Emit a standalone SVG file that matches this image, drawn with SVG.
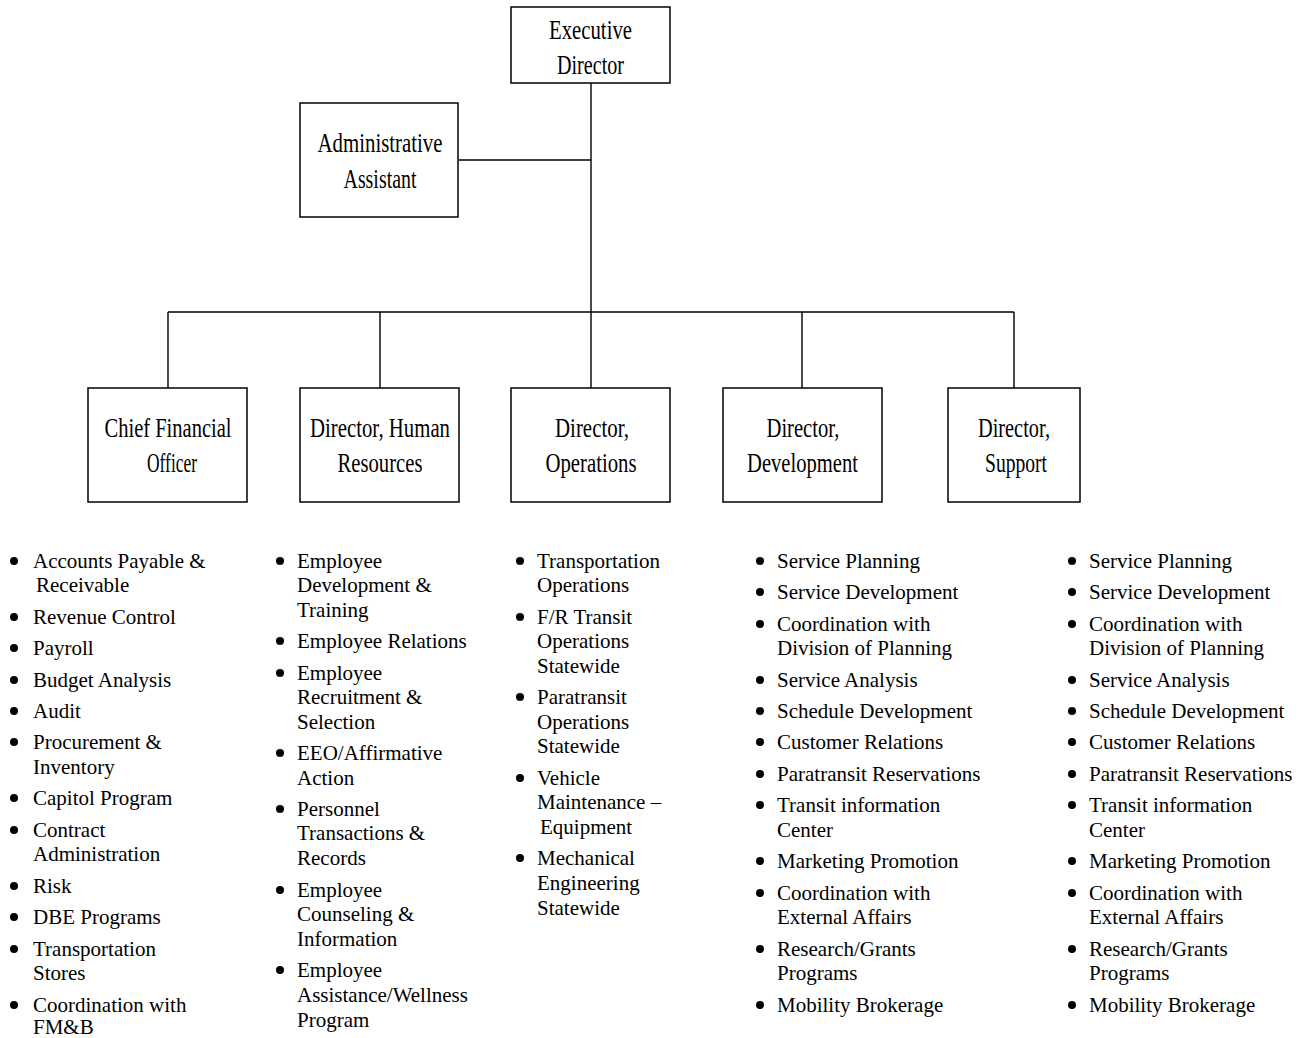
<svg xmlns="http://www.w3.org/2000/svg" width="1311" height="1038" viewBox="0 0 1311 1038">
<style>
.box{fill:#fff;stroke:#000;stroke-width:1.5}
.conn{fill:none;stroke:#000;stroke-width:1.4}
.bt{font-family:'Liberation Serif','Times New Roman',Times,serif;font-size:27px;fill:#000;text-anchor:middle}
.li{font-family:'Liberation Serif','Times New Roman',Times,serif;font-size:21px;fill:#000}
.bul{fill:#000}
</style>
<rect width="1311" height="1038" fill="#fff"/>
<g id="connectors">
<path class="conn" d="M591 83V388M459 160H591M168 312H1014M168 312V388M380 312V388M802 312V388M1014 312V388"/>
</g>
<g id="exec">
<rect class="box" x="511" y="7" width="159" height="76"/>
<text class="bt" x="590.5" y="39" textLength="83" lengthAdjust="spacingAndGlyphs">Executive</text>
<text class="bt" x="590.5" y="74" textLength="67" lengthAdjust="spacingAndGlyphs">Director</text>
</g>
<g id="admin">
<rect class="box" x="300" y="103" width="158" height="114"/>
<text class="bt" x="380" y="152" textLength="125" lengthAdjust="spacingAndGlyphs">Administrative</text>
<text class="bt" x="380" y="188" textLength="73" lengthAdjust="spacingAndGlyphs">Assistant</text>
</g>
<g id="cfo">
<rect class="box" x="88" y="388" width="159" height="114"/>
<text class="bt" x="168" y="437" textLength="127" lengthAdjust="spacingAndGlyphs">Chief Financial</text>
<text class="bt" x="172" y="472" textLength="50" lengthAdjust="spacingAndGlyphs">Officer</text>
</g>
<g id="hr">
<rect class="box" x="300" y="388" width="159" height="114"/>
<text class="bt" x="380" y="437" textLength="140" lengthAdjust="spacingAndGlyphs">Director, Human</text>
<text class="bt" x="380" y="472" textLength="85" lengthAdjust="spacingAndGlyphs">Resources</text>
</g>
<g id="ops">
<rect class="box" x="511" y="388" width="159" height="114"/>
<text class="bt" x="592" y="437" textLength="74" lengthAdjust="spacingAndGlyphs">Director,</text>
<text class="bt" x="591" y="472" textLength="91" lengthAdjust="spacingAndGlyphs">Operations</text>
</g>
<g id="dev">
<rect class="box" x="723" y="388" width="159" height="114"/>
<text class="bt" x="803" y="437" textLength="73" lengthAdjust="spacingAndGlyphs">Director,</text>
<text class="bt" x="802.5" y="472" textLength="111" lengthAdjust="spacingAndGlyphs">Development</text>
</g>
<g id="support">
<rect class="box" x="948" y="388" width="132" height="114"/>
<text class="bt" x="1014" y="437" textLength="72" lengthAdjust="spacingAndGlyphs">Director,</text>
<text class="bt" x="1016" y="472" textLength="62" lengthAdjust="spacingAndGlyphs">Support</text>
</g>
<g id="cfo-list">
<g class="bul"><circle cx="14" cy="561" r="4"/><circle cx="14" cy="617" r="4"/><circle cx="14" cy="648" r="4"/><circle cx="14" cy="680" r="4"/><circle cx="14" cy="711" r="4"/><circle cx="14" cy="742" r="4"/><circle cx="14" cy="798" r="4"/><circle cx="14" cy="830" r="4"/><circle cx="14" cy="886" r="4"/><circle cx="14" cy="917" r="4"/><circle cx="14" cy="949" r="4"/><circle cx="14" cy="1005" r="4"/></g>
<text class="li"><tspan x="33" y="568">Accounts Payable &amp;</tspan><tspan x="36" y="592">Receivable</tspan><tspan x="33" y="624">Revenue Control</tspan><tspan x="33" y="655">Payroll</tspan><tspan x="33" y="687">Budget Analysis</tspan><tspan x="33" y="718">Audit</tspan><tspan x="33" y="749">Procurement &amp;</tspan><tspan x="33" y="774">Inventory</tspan><tspan x="33" y="805">Capitol Program</tspan><tspan x="33" y="837">Contract</tspan><tspan x="33" y="861">Administration</tspan><tspan x="33" y="893">Risk</tspan><tspan x="33" y="924">DBE Programs</tspan><tspan x="33" y="956">Transportation</tspan><tspan x="33" y="980">Stores</tspan><tspan x="33" y="1012">Coordination with</tspan><tspan x="33" y="1034">FM&amp;B</tspan></text>
</g>
<g id="hr-list">
<g class="bul"><circle cx="280" cy="561" r="4"/><circle cx="280" cy="641" r="4"/><circle cx="280" cy="673" r="4"/><circle cx="280" cy="753" r="4"/><circle cx="280" cy="809" r="4"/><circle cx="280" cy="890" r="4"/><circle cx="280" cy="970" r="4"/></g>
<text class="li"><tspan x="297" y="568">Employee</tspan><tspan x="297" y="592">Development &amp;</tspan><tspan x="297" y="617">Training</tspan><tspan x="297" y="648">Employee Relations</tspan><tspan x="297" y="680">Employee</tspan><tspan x="297" y="704">Recruitment &amp;</tspan><tspan x="297" y="729">Selection</tspan><tspan x="297" y="760">EEO/Affirmative</tspan><tspan x="297" y="785">Action</tspan><tspan x="297" y="816">Personnel</tspan><tspan x="297" y="840">Transactions &amp;</tspan><tspan x="297" y="865">Records</tspan><tspan x="297" y="897">Employee</tspan><tspan x="297" y="921">Counseling &amp;</tspan><tspan x="297" y="946">Information</tspan><tspan x="297" y="977">Employee</tspan><tspan x="297" y="1002">Assistance/Wellness</tspan><tspan x="297" y="1027">Program</tspan></text>
</g>
<g id="ops-list">
<g class="bul"><circle cx="520" cy="561" r="4"/><circle cx="520" cy="617" r="4"/><circle cx="520" cy="697" r="4"/><circle cx="520" cy="778" r="4"/><circle cx="520" cy="858" r="4"/></g>
<text class="li"><tspan x="537" y="568">Transportation</tspan><tspan x="537" y="592">Operations</tspan><tspan x="537" y="624">F/R Transit</tspan><tspan x="537" y="648">Operations</tspan><tspan x="537" y="673">Statewide</tspan><tspan x="537" y="704">Paratransit</tspan><tspan x="537" y="729">Operations</tspan><tspan x="537" y="753">Statewide</tspan><tspan x="537" y="785">Vehicle</tspan><tspan x="537" y="809">Maintenance –</tspan><tspan x="540" y="834">Equipment</tspan><tspan x="537" y="865">Mechanical</tspan><tspan x="537" y="890">Engineering</tspan><tspan x="537" y="915">Statewide</tspan></text>
</g>
<g id="dev-list">
<g class="bul"><circle cx="760" cy="561" r="4"/><circle cx="760" cy="592" r="4"/><circle cx="760" cy="624" r="4"/><circle cx="760" cy="680" r="4"/><circle cx="760" cy="711" r="4"/><circle cx="760" cy="742" r="4"/><circle cx="760" cy="774" r="4"/><circle cx="760" cy="805" r="4"/><circle cx="760" cy="861" r="4"/><circle cx="760" cy="893" r="4"/><circle cx="760" cy="949" r="4"/><circle cx="760" cy="1005" r="4"/></g>
<text class="li"><tspan x="777" y="568">Service Planning</tspan><tspan x="777" y="599">Service Development</tspan><tspan x="777" y="631">Coordination with</tspan><tspan x="777" y="655">Division of Planning</tspan><tspan x="777" y="687">Service Analysis</tspan><tspan x="777" y="718">Schedule Development</tspan><tspan x="777" y="749">Customer Relations</tspan><tspan x="777" y="781">Paratransit Reservations</tspan><tspan x="777" y="812">Transit information</tspan><tspan x="777" y="837">Center</tspan><tspan x="777" y="868">Marketing Promotion</tspan><tspan x="777" y="900">Coordination with</tspan><tspan x="777" y="924">External Affairs</tspan><tspan x="777" y="956">Research/Grants</tspan><tspan x="777" y="980">Programs</tspan><tspan x="777" y="1012">Mobility Brokerage</tspan></text>
</g>
<g id="support-list">
<g class="bul"><circle cx="1072" cy="561" r="4"/><circle cx="1072" cy="592" r="4"/><circle cx="1072" cy="624" r="4"/><circle cx="1072" cy="680" r="4"/><circle cx="1072" cy="711" r="4"/><circle cx="1072" cy="742" r="4"/><circle cx="1072" cy="774" r="4"/><circle cx="1072" cy="805" r="4"/><circle cx="1072" cy="861" r="4"/><circle cx="1072" cy="893" r="4"/><circle cx="1072" cy="949" r="4"/><circle cx="1072" cy="1005" r="4"/></g>
<text class="li"><tspan x="1089" y="568">Service Planning</tspan><tspan x="1089" y="599">Service Development</tspan><tspan x="1089" y="631">Coordination with</tspan><tspan x="1089" y="655">Division of Planning</tspan><tspan x="1089" y="687">Service Analysis</tspan><tspan x="1089" y="718">Schedule Development</tspan><tspan x="1089" y="749">Customer Relations</tspan><tspan x="1089" y="781">Paratransit Reservations</tspan><tspan x="1089" y="812">Transit information</tspan><tspan x="1089" y="837">Center</tspan><tspan x="1089" y="868">Marketing Promotion</tspan><tspan x="1089" y="900">Coordination with</tspan><tspan x="1089" y="924">External Affairs</tspan><tspan x="1089" y="956">Research/Grants</tspan><tspan x="1089" y="980">Programs</tspan><tspan x="1089" y="1012">Mobility Brokerage</tspan></text>
</g>
</svg>
